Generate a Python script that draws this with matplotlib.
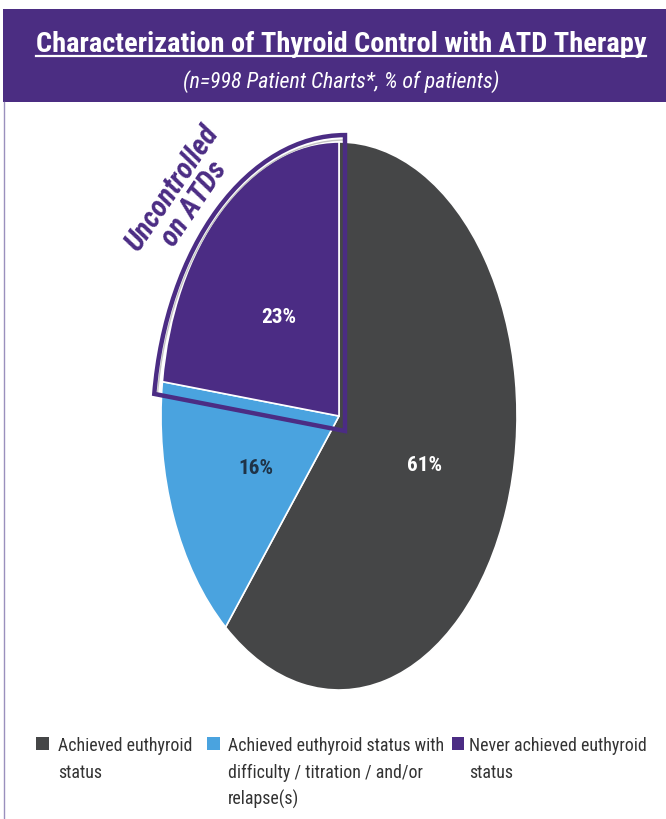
import matplotlib
matplotlib.use('Agg')
import matplotlib.pyplot as plt
from matplotlib import font_manager as fm
from matplotlib.patches import Wedge, Rectangle, Arc
from matplotlib.lines import Line2D

# ---------------- data ----------------
categories = ["Achieved euthyroid\nstatus",
              "Achieved euthyroid status with\ndifficulty / titration / and/or\nrelapse(s)",
              "Never achieved euthyroid\nstatus"]
values = [61, 16, 23]
pct_labels = ["61%", "16%", "23%"]
title = "Characterization of Thyroid Control with ATD Therapy"
subtitle = "(n=998 Patient Charts*, % of patients)"
callout = "Uncontrolled\non ATDs"

colors = ['#454647', '#4aa3df', '#4b2c84']
label_colors = ['white', '#1f3347', 'white']
header_color = '#4b2d82'

# ---------------- fonts ----------------
names = {f.name for f in fm.fontManager.ttflist}
FAM = None
STRETCH = 'normal'
for cand in ['Liberation Sans Narrow', 'Arial Narrow', 'Roboto Condensed', 'Open Sans Condensed']:
    if cand in names:
        FAM = cand
        break
if FAM is None:
    cond = [f for f in fm.fontManager.ttflist
            if f.name == 'DejaVu Sans' and str(f.stretch) in ('condensed', 'semi-condensed')]
    if cond:
        FAM = 'DejaVu Sans'
        STRETCH = 'condensed'
    else:
        FAM = 'Liberation Sans'


def fk(**kw):
    d = dict(family=[FAM, 'DejaVu Sans'], fontstretch=STRETCH)
    d.update(kw)
    return d


W, H = 666, 820
fig = plt.figure(figsize=(W / 100, H / 100), dpi=100)
fig.patch.set_facecolor('white')


def fx(px):
    return px / W


def fy(py):
    return 1 - py / H


# header band
fig.add_artist(Rectangle((fx(3), fy(103)), 1 - fx(3), (103 - 10) / H,
                         transform=fig.transFigure, facecolor=header_color,
                         edgecolor='none'))
# thin left border of the panel
fig.add_artist(Line2D([fx(3.5), fx(3.5)], [0, fy(103)], transform=fig.transFigure,
                      color='#9a90bd', lw=1.0))

t_title = fig.text(fx(341), fy(52), title, ha='center', va='baseline', color='white',
                   fontsize=20, **fk(weight='bold'))
t_sub = fig.text(fx(341), fy(88), subtitle, ha='center', va='baseline', color='white',
                 fontsize=15, **fk(style='italic'))

# ---------------- pie ----------------
cx, cy, rx, ry = 339, 417, 178, 274
ax = fig.add_axes([fx(cx - 220), fy(cy + 300), 440 / W, 600 / H])
wedges, _ = ax.pie(values, colors=colors, startangle=90, counterclock=False,
                   wedgeprops=dict(edgecolor='white', linewidth=1.2))
ax.set_aspect('auto')
ax.set_xlim(-220 / rx, 220 / rx)
ax.set_ylim(-300 / ry, 300 / ry)
ax.axis('off')

# angles of the "never achieved" slice
a_start = 90 - 360 * (values[0] + values[1]) / sum(values)  # going clockwise
th1, th2 = 90, a_start + 360

# outline highlight around the uncontrolled slice
ocx, ocy, orr = 6 / rx, -15 / ry, 1.08
ax.add_patch(Arc((ocx, ocy), 2 * (orr - 0.018), 2 * (orr - 0.018), theta1=th1, theta2=th2,
                 color='#c4c4c4', lw=1.0))
ax.add_patch(Wedge((ocx, ocy), orr, th1, th2, fill=False, edgecolor=colors[2],
                   lw=3.2, joinstyle='miter'))

# percentage labels
label_pos = [(424, 466), (256, 469), (279, 318)]
t_pcts = []
for (px, py), lab, col in zip(label_pos, pct_labels, label_colors):
    t_pcts.append(ax.text((px - cx) / rx, (cy - py) / ry, lab, ha='center', va='center',
                          color=col, fontsize=15, **fk(weight='bold')))

# callout text
ax.text((183 - cx) / rx, (cy - 196) / ry, callout, ha='center', va='center',
        rotation=56, rotation_mode='anchor', color=colors[2], fontsize=21,
        multialignment='center', linespacing=0.95,
        **fk(weight='bold', style='italic'))

# ---------------- legend ----------------
sq_x = [42, 213, 458]
txt_x = [58, 228, 469]
base_y = [751, 778, 805]
sq = 13
leg_texts = []
for i, (lab, col) in enumerate(zip(categories, colors)):
    fig.add_artist(Rectangle((fx(sq_x[i] - sq / 2), fy(744 + sq / 2)), sq / W, sq / H,
                             transform=fig.transFigure, facecolor=col, edgecolor='none'))
    for j, line in enumerate(lab.split('\n')):
        t = fig.text(fx(txt_x[i]), fy(base_y[j]), line, ha='left', va='baseline',
                     color='#333333', fontsize=14, **fk())
        if j == 0:
            leg_texts.append((t, i))
        else:
            leg_texts.append((t, None))

# ---------------- fit text widths to the reference ----------------
fig.canvas.draw()
r = fig.canvas.get_renderer()


def fit(t, target):
    w = t.get_window_extent(r).width
    t.set_fontsize(t.get_fontsize() * target / w)


fit(t_title, 608)
fit(t_sub, 317)
fit(t_pcts[2], 35)
for t in t_pcts[:2]:
    t.set_fontsize(t_pcts[2].get_fontsize())
targets = [134, 217, 179]
scales = []
for t, i in leg_texts:
    if i is not None:
        scales.append(targets[i] / t.get_window_extent(r).width)
s = sum(scales) / len(scales)
for t, _ in leg_texts:
    t.set_fontsize(t.get_fontsize() * s)

fig.canvas.draw()
bb = t_title.get_window_extent(r)
uy = fy(57)
fig.add_artist(Line2D([bb.x0 / W, bb.x1 / W], [uy, uy], transform=fig.transFigure,
                      color='white', lw=1.6))

fig.savefig('out.png', dpi=100, facecolor='white')
